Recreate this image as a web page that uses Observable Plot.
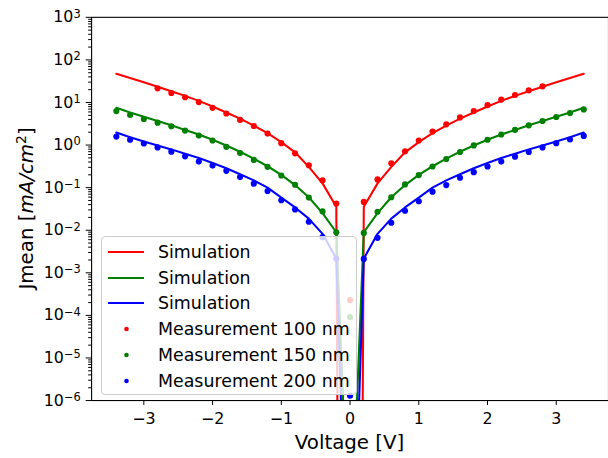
<!DOCTYPE html>
<html><head><meta charset="utf-8">
<script src="https://cdn.jsdelivr.net/npm/d3@7"></script>
<script src="https://cdn.jsdelivr.net/npm/@observablehq/plot@0.6"></script>
<style>
html,body{margin:0;padding:0;background:#fff;overflow:hidden;}
#wrap{position:relative;width:608px;height:458px;overflow:hidden;font-family:"DejaVu Sans",sans-serif;}
#wrap > svg{position:absolute;left:0;top:0;}
#legend{position:absolute;left:101px;top:236px;width:256px;height:159px;box-sizing:border-box;background:rgba(255,255,255,0.8);border:1px solid #cccccc;border-radius:4px;}
.row{position:absolute;left:0;height:26px;display:flex;align-items:center;font-size:17.4px;line-height:26px;color:#000;white-space:nowrap;}
.row svg{position:static;display:block;margin-left:6px;margin-right:14px;flex:none;}
</style>
</head><body>
<div id="wrap"></div>
<script>
// Simulation voltages (V)
const simV = [-3.4,-3.2,-3.0,-2.8,-2.6,-2.4,-2.2,-2.0,-1.8,-1.6,-1.4,-1.2,-1.0,-0.8,-0.6,-0.4,-0.2,0,
              0.2,0.4,0.6,0.8,1.0,1.2,1.4,1.6,1.8,2.0,2.2,2.4,2.6,2.8,3.0,3.2,3.4];
// Simulation current density (mA/cm^2)
const simRed = [47.2,37.4,29.7,23.5,18.3,14.3,10.9,8.05,5.84,4.17,2.86,1.90,1.17,0.675,0.308,0.126,0.0355,1e-60,
                0.0355,0.126,0.308,0.675,1.17,1.90,2.86,4.17,5.84,8.05,10.9,14.3,18.3,23.5,29.7,37.4,47.2];
const simGreen = [7.50,5.84,4.64,3.67,2.91,2.27,1.77,1.33,0.98,0.698,0.480,0.318,0.200,0.115,0.0594,0.0252,0.00897,1e-10,
                  0.00897,0.0252,0.0594,0.115,0.200,0.318,0.480,0.698,0.98,1.33,1.77,2.27,2.91,3.67,4.64,5.84,7.50];
const simBlue = [1.97,1.53,1.21,0.98,0.792,0.628,0.498,0.381,0.286,0.207,0.148,0.100,0.0585,0.0343,0.0187,0.00822,0.00215,3e-13,
                 0.00215,0.00822,0.0187,0.0343,0.0585,0.100,0.148,0.207,0.286,0.381,0.498,0.628,0.792,0.98,1.21,1.53,1.97];

// Measurements
const measV100 = [-2.8,-2.6,-2.4,-2.2,-2.0,-1.8,-1.6,-1.4,-1.2,-1.0,-0.8,-0.6,-0.4,-0.2,0,
                  0.2,0.4,0.6,0.8,1.0,1.2,1.4,1.6,1.8,2.0,2.2,2.4,2.6,2.8];
const meas100 = [21.5,16.7,13.3,10.2,7.5,5.5,3.9,2.8,1.86,1.11,0.64,0.336,0.148,0.0425,2.3e-4,
                 0.0462,0.156,0.374,0.711,1.28,2.07,3.07,4.47,6.28,8.65,11.7,15.0,19.3,23.9];
const measV = [-3.4,-3.2,-3.0,-2.8,-2.6,-2.4,-2.2,-2.0,-1.8,-1.6,-1.4,-1.2,-1.0,-0.8,-0.6,-0.4,-0.2,0,
               0.2,0.4,0.6,0.8,1.0,1.2,1.4,1.6,1.8,2.0,2.2,2.4,2.6,2.8,3.0,3.2,3.4];
const meas150 = [6.28,5.07,4.09,3.36,2.77,2.19,1.67,1.28,0.91,0.65,0.448,0.308,0.193,0.117,0.0585,0.0277,0.00898,9.1e-5,
                 0.00865,0.0271,0.0594,0.119,0.197,0.313,0.472,0.686,0.98,1.33,1.77,2.27,2.91,3.67,4.55,5.64,6.87];
const meas200 = [1.58,1.33,1.09,0.88,0.70,0.543,0.409,0.330,0.248,0.177,0.124,0.0834,0.0507,0.0308,0.0158,0.00687,0.00215,1.3e-6,
                 0.00212,0.00662,0.0150,0.0286,0.048,0.0805,0.115,0.171,0.231,0.313,0.409,0.535,0.686,0.88,1.11,1.35,1.64];

const xTicks = [-3,-2,-1,0,1,2,3];
const yMajor = [1e-6,1e-5,1e-4,1e-3,1e-2,1e-1,1e0,1e1,1e2,1e3];
const yMinor = [];
for (let k = -6; k < 3; k++) for (let m = 2; m <= 9; m++) yMinor.push(m * Math.pow(10, k));

const legendLabels = ["Simulation","Simulation","Simulation","Measurement 100 nm","Measurement 150 nm","Measurement 200 nm"];
const colors = ["#ff0000","#008000","#0000ff"];

const tab = (xs, ys) => xs.map((v, i) => ({v, j: ys[i]}));

const chart = Plot.plot({
  width: 614, height: 458,
  marginLeft: 92, marginRight: 0, marginTop: 17, marginBottom: 54,
  style: {fontFamily: "DejaVu Sans", fontSize: "16px", color: "black", background: "transparent", overflow: "visible"},
  x: {domain: [-3.76, 3.76]},
  y: {type: "log", domain: [1e-6, 1e3]},
  marks: [
    Plot.line(tab(simV, simRed), {x: "v", y: "j", stroke: colors[0], strokeWidth: 2.1, clip: true}),
    Plot.line(tab(simV, simGreen), {x: "v", y: "j", stroke: colors[1], strokeWidth: 2.1, clip: true}),
    Plot.line(tab(simV, simBlue), {x: "v", y: "j", stroke: colors[2], strokeWidth: 2.1, clip: true}),
    Plot.dot(tab(measV100, meas100), {x: "v", y: "j", r: 3.1, fill: colors[0]}),
    Plot.dot(tab(measV, meas150), {x: "v", y: "j", r: 3.1, fill: colors[1]}),
    Plot.dot(tab(measV, meas200), {x: "v", y: "j", r: 3.1, fill: colors[2]}),
    Plot.frame({stroke: "black", strokeWidth: 1.1}),
    Plot.axisX({ticks: xTicks, tickSize: 5, tickPadding: 7, fontSize: 16,
      tickFormat: d => d < 0 ? "\u2212" + (-d) : String(d), label: null}),
    Plot.axisY({ticks: yMajor, tickSize: 5.5, tickPadding: 5.5, fontSize: 16,
      tickFormat: d => "e" + Math.round(Math.log10(d)), label: null}),
    Plot.axisY({ticks: yMinor, tickSize: 3, tickFormat: () => "", label: null})
  ]
});

// superscripts on y tick labels
chart.querySelectorAll('g[aria-label="y-axis tick label"] text').forEach(t => {
  const s = t.textContent;
  if (!s.startsWith("e")) return;
  const e = +s.slice(1);
  t.textContent = "";
  const ns = "http://www.w3.org/2000/svg";
  const a = document.createElementNS(ns, "tspan"); a.textContent = "10"; t.appendChild(a);
  const b = document.createElementNS(ns, "tspan");
  b.textContent = e < 0 ? "\u2212" + (-e) : String(e);
  b.setAttribute("dy", "-0.42em"); b.setAttribute("font-size", "11.5px");
  t.appendChild(b);
});

const svg = d3.select(chart);
svg.append("text").attr("x", 353).attr("y", 453).attr("text-anchor", "middle")
  .attr("font-size", 20).attr("fill", "black").text("Voltage [V]");
const yl = svg.append("text").attr("transform", "translate(33,210.5) rotate(-90)")
  .attr("text-anchor", "middle").attr("font-size", 20).attr("fill", "black");
yl.append("tspan").text("Jmean [");
yl.append("tspan").attr("font-style", "italic").text("mA/cm");
yl.append("tspan").attr("font-size", 14).attr("dy", "-0.5em").text("2");
yl.append("tspan").attr("dy", "0.35em").text("]");

const wrap = document.getElementById("wrap");
wrap.appendChild(chart);

const leg = document.createElement("div");
leg.id = "legend";
legendLabels.forEach((lab, i) => {
  const row = document.createElement("div");
  row.className = "row";
  row.style.top = (1.8 + 25.8 * i) + "px";
  const c = colors[i % 3];
  const sw = i < 3
    ? `<svg width="36" height="26"><line x1="0" x2="36" y1="13" y2="13" stroke="${c}" stroke-width="2.1"/></svg>`
    : `<svg width="36" height="26"><circle cx="18.5" cy="13" r="2.3" fill="${c}"/></svg>`;
  row.innerHTML = sw + `<span>${lab}</span>`;
  leg.appendChild(row);
});
wrap.appendChild(leg);
</script>
</body></html>
